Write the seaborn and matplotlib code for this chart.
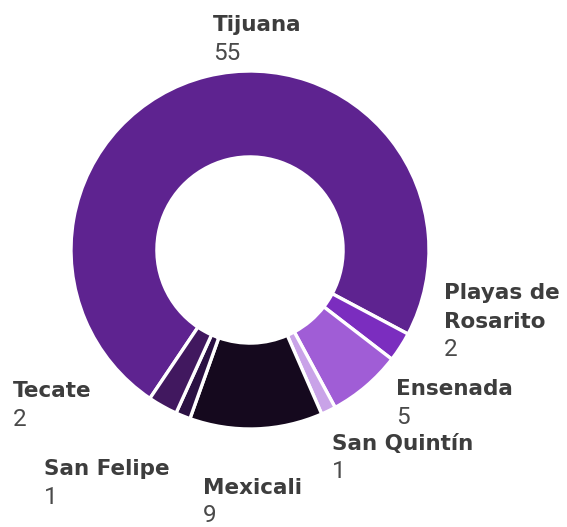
import matplotlib
matplotlib.use("Agg")
import matplotlib.pyplot as plt
import seaborn as sns

# ---- data ----
categories = ["Tijuana", "Playas de\nRosarito", "Ensenada", "San Quintín",
              "Mexicali", "San Felipe", "Tecate"]
values = [55, 2, 5, 1, 9, 1, 2]
colors = ["#5E2390", "#7B2DBF", "#A05DD6", "#C9A3E8",
          "#15091E", "#2B1143", "#41185F"]

# label anchors (pixels: left x, baseline y of the first name line)
label_px = [(213, 31), (444, 299), (396, 395), (332, 450),
            (203, 494), (44, 475), (13, 397)]

sns.set_theme(style="white")
plt.rcParams['font.family'] = ['DejaVu Sans']

W, H = 567, 527
fig = plt.figure(figsize=(W / 100, H / 100), dpi=100)
ax = fig.add_axes([0, 0, 1, 1])

cx, cy, R = 250, 250, 179
palette = sns.color_palette(colors)
ax.pie(values, colors=palette, startangle=236, counterclock=False,
       radius=1.0,
       wedgeprops=dict(width=0.48, edgecolor="white", linewidth=2.4))
ax.set_xlim(-cx / R, (W - cx) / R)
ax.set_ylim(-(H - cy) / R, cy / R)
ax.set_aspect("auto")
ax.axis("off")

LINE = 28.5
for name, val, (px, py) in zip(categories, values, label_px):
    lines = name.split("\n")
    for i, ln in enumerate(lines):
        fig.text(px / W, 1 - (py + i * LINE) / H, ln, ha="left",
                 va="baseline", fontsize=15.5, fontweight="bold",
                 color="#3d3d3d", family=["DejaVu Sans"])
    vy = py + len(lines) * LINE
    fig.text(px / W, 1 - vy / H, str(val), ha="left", va="baseline",
             fontsize=17.5, fontweight="normal", color="#4a4a4a",
             family=["Roboto", "DejaVu Sans"])

fig.savefig("out.png", dpi=100)
